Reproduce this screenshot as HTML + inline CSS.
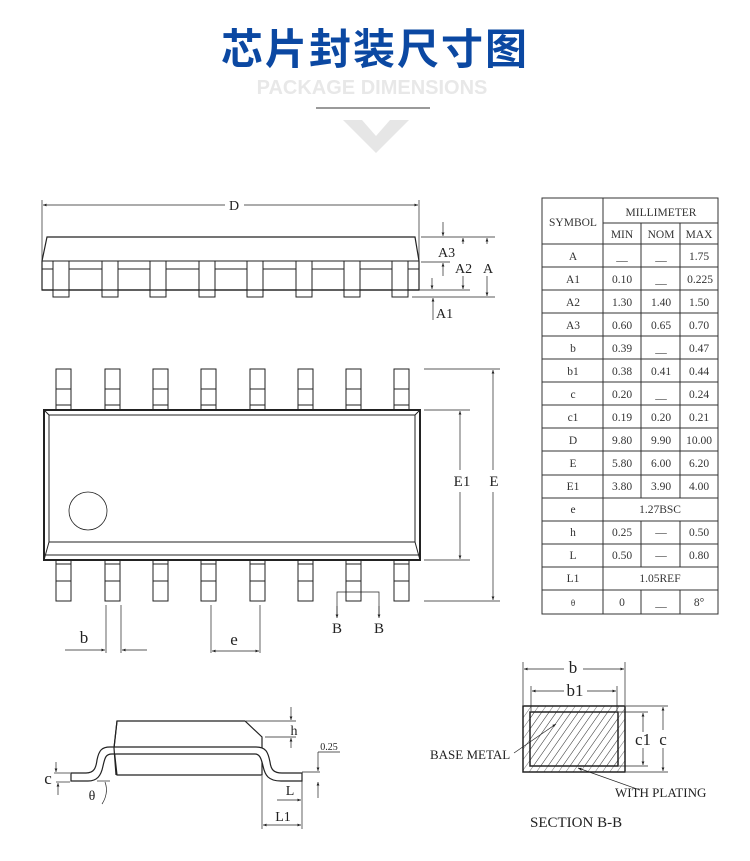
<!DOCTYPE html>
<html><head><meta charset="utf-8"><style>
html,body{margin:0;padding:0;background:#fff;}
svg{display:block;}
</style></head><body>
<svg width="750" height="861" viewBox="0 0 750 861" xmlns="http://www.w3.org/2000/svg" font-family="Liberation Serif, serif" fill="none" stroke="#222">
<defs>
<marker id="ar" viewBox="0 0 10 10" refX="10" refY="5" markerWidth="6" markerHeight="5" orient="auto-start-reverse"><path d="M0,1 L10,5 L0,9z" fill="#222" stroke="none"/></marker>
<pattern id="hatch" width="6" height="6" patternUnits="userSpaceOnUse" patternTransform="rotate(35)"><line x1="0" y1="0" x2="0" y2="6" stroke="#333" stroke-width="0.7"/></pattern>
</defs>
<!-- header -->
<text x="375" y="64" text-anchor="middle" font-family="Liberation Sans, Noto Sans CJK SC, sans-serif" font-weight="bold" font-size="42" fill="#0b48a2" stroke="none" letter-spacing="2">芯片封装尺寸图</text>
<text x="372" y="94" text-anchor="middle" font-family="Liberation Sans, sans-serif" font-weight="bold" font-size="20" fill="#e8e8e8" stroke="none">PACKAGE DIMENSIONS</text>
<line x1="316" y1="108" x2="430" y2="108" stroke="#9a9a9a" stroke-width="2"/>
<path d="M343,120 L362,120 L376,136 L390,120 L409,120 L376,153z" fill="#e6e6e6" stroke="none"/>

<g stroke-width="1">
<!-- side view -->
<line x1="42" y1="200" x2="42" y2="262" stroke-width="0.7"/>
<line x1="419" y1="200" x2="419" y2="262" stroke-width="0.7"/>
<line x1="43" y1="205" x2="225" y2="205" stroke-width="0.7" marker-start="url(#ar)"/>
<line x1="244" y1="205" x2="418" y2="205" stroke-width="0.7" marker-end="url(#ar)"/>
<text x="234" y="210" font-size="14" fill="#222" stroke="none" text-anchor="middle">D</text>
<path d="M47,237 L415,237 L419,261 L419,290 L42,290 L42,261z" stroke-width="1.2"/>
<line x1="42" y1="261" x2="419" y2="261"/>
<line x1="42" y1="269" x2="419" y2="269"/>
<g fill="#fff">
<rect x="53" y="261" width="16" height="36"/><rect x="102" y="261" width="16" height="36"/><rect x="150" y="261" width="16" height="36"/><rect x="199" y="261" width="16" height="36"/><rect x="247" y="261" width="16" height="36"/><rect x="296" y="261" width="16" height="36"/><rect x="344" y="261" width="16" height="36"/><rect x="392" y="261" width="16" height="36"/>
</g>
<line x1="42" y1="290" x2="419" y2="290" stroke-width="1.2"/>
<g stroke-width="0.7">
<line x1="421" y1="237" x2="495" y2="237"/><line x1="421" y1="262" x2="450" y2="262"/>
<line x1="412" y1="290" x2="470" y2="290"/><line x1="412" y1="297" x2="495" y2="297"/>
<line x1="443" y1="222" x2="443" y2="236" marker-end="url(#ar)"/>
<line x1="443" y1="276" x2="443" y2="263" marker-end="url(#ar)"/>
<line x1="463" y1="244" x2="463" y2="238" marker-end="url(#ar)"/><line x1="463" y1="276" x2="463" y2="289" marker-end="url(#ar)"/>
<line x1="487" y1="244" x2="487" y2="238" marker-end="url(#ar)"/><line x1="487" y1="276" x2="487" y2="296" marker-end="url(#ar)"/>
<line x1="432" y1="278" x2="432" y2="289" marker-end="url(#ar)"/>
<line x1="433" y1="320" x2="433" y2="298" marker-end="url(#ar)"/>
</g>
<g font-size="14" fill="#222" stroke="none">
<text x="438" y="257">A3</text><text x="455" y="273">A2</text><text x="483" y="273">A</text><text x="436" y="318">A1</text>
</g>

<!-- top view -->
<g fill="#fff">
<rect x="56" y="369" width="15" height="41"/><rect x="105" y="369" width="15" height="41"/><rect x="153" y="369" width="15" height="41"/><rect x="201" y="369" width="15" height="41"/><rect x="250" y="369" width="15" height="41"/><rect x="298" y="369" width="15" height="41"/><rect x="346" y="369" width="15" height="41"/><rect x="394" y="369" width="15" height="41"/>
<rect x="56" y="560" width="15" height="41"/><rect x="105" y="560" width="15" height="41"/><rect x="153" y="560" width="15" height="41"/><rect x="201" y="560" width="15" height="41"/><rect x="250" y="560" width="15" height="41"/><rect x="298" y="560" width="15" height="41"/><rect x="346" y="560" width="15" height="41"/><rect x="394" y="560" width="15" height="41"/>
</g>
<path d="M56,389h15M105,389h15M153,389h15M201,389h15M250,389h15M298,389h15M346,389h15M394,389h15 M56,405h15M105,405h15M153,405h15M201,405h15M250,405h15M298,405h15M346,405h15M394,405h15 M56,564h15M105,564h15M153,564h15M201,564h15M250,564h15M298,564h15M346,564h15M394,564h15 M56,581h15M105,581h15M153,581h15M201,581h15M250,581h15M298,581h15M346,581h15M394,581h15"/>
<rect x="44" y="410" width="376" height="150" stroke-width="2" fill="#fff"/>
<rect x="49" y="415" width="366" height="127" stroke-width="1"/>
<path d="M44,410 L49,415 M420,410 L415,415 M44,560 L49,542 M420,560 L415,542 M44,555 L420,555"/>
<circle cx="88" cy="511" r="19" stroke-width="0.8"/>
<g stroke-width="0.7">
<line x1="424" y1="410" x2="470" y2="410"/><line x1="424" y1="560" x2="470" y2="560"/>
<line x1="424" y1="369" x2="500" y2="369"/><line x1="424" y1="601" x2="500" y2="601"/>
<line x1="460" y1="470" x2="460" y2="411" marker-end="url(#ar)"/><line x1="460" y1="492" x2="460" y2="559" marker-end="url(#ar)"/>
<line x1="493" y1="470" x2="493" y2="370" marker-end="url(#ar)"/><line x1="493" y1="492" x2="493" y2="600" marker-end="url(#ar)"/>
<path d="M337,617 L337,592 L379,592 L379,617"/>
<line x1="337" y1="606" x2="337" y2="618" marker-end="url(#ar)"/><line x1="379" y1="606" x2="379" y2="618" marker-end="url(#ar)"/>
<line x1="106" y1="605" x2="106" y2="653"/><line x1="121" y1="605" x2="121" y2="653"/>
<line x1="65" y1="650" x2="105" y2="650" marker-end="url(#ar)"/><line x1="147" y1="650" x2="122" y2="650" marker-end="url(#ar)"/>
<line x1="211" y1="605" x2="211" y2="653"/><line x1="260" y1="605" x2="260" y2="653"/>
<line x1="212" y1="651" x2="259" y2="651" marker-start="url(#ar)" marker-end="url(#ar)"/>
</g>
<g font-size="15" fill="#222" stroke="none" text-anchor="middle">
<text x="462" y="486">E1</text><text x="494" y="486">E</text>
<text x="337" y="633">B</text><text x="379" y="633">B</text>
<text x="84" y="643" font-size="17">b</text><text x="234" y="645" font-size="17">e</text>
</g>

<!-- bottom side profile -->
<path d="M117,721 L245,721 L262,737 L262,775 L117,775 L114,748z" stroke-width="1.2"/>
<path d="M71,773 L86,773 C94,773 96,768 97,760 C99,750 102,747 110,747 L256,747 C266,747 268,752 270,762 C271,770 274,773 282,773 L302,773 L302,781 L281,781 C268,781 265,775 263,766 C261,757 259,754 255,754 L112,754 C106,754 105,757 103,766 C101,776 97,781 88,781 L71,781z" stroke-width="1.2" fill="#fff"/>
<path d="M117,721 L114,748 L116,775" stroke-width="1.2"/>
<g stroke-width="0.7">
<line x1="246" y1="721" x2="296" y2="721"/><line x1="265" y1="737" x2="296" y2="737"/>
<line x1="291" y1="707" x2="291" y2="720" marker-end="url(#ar)"/><line x1="291" y1="748" x2="291" y2="738" marker-end="url(#ar)"/>
<line x1="318" y1="752" x2="340" y2="752"/><line x1="318" y1="752" x2="318" y2="771" marker-end="url(#ar)"/>
<line x1="318" y1="798" x2="318" y2="782" marker-end="url(#ar)"/>
<line x1="302" y1="772" x2="320" y2="772"/>
<line x1="302" y1="781" x2="302" y2="829"/><line x1="262" y1="776" x2="262" y2="829"/>
<line x1="277" y1="800" x2="301" y2="800" marker-end="url(#ar)"/>
<line x1="263" y1="825" x2="301" y2="825" marker-start="url(#ar)" marker-end="url(#ar)"/>
<line x1="54" y1="773" x2="70" y2="773"/><line x1="56" y1="782" x2="70" y2="782"/>
<line x1="56" y1="762" x2="56" y2="772" marker-end="url(#ar)"/><line x1="58" y1="795" x2="58" y2="783" marker-end="url(#ar)"/>
<path d="M105,782 C108,790 106,798 102,804"/><line x1="97" y1="781" x2="110" y2="781"/>
</g>
<g font-size="14" fill="#222" stroke="none" text-anchor="middle">
<text x="294" y="735">h</text><text x="329" y="750" font-size="10">0.25</text>
<text x="290" y="795">L</text><text x="283" y="821">L1</text>
<text x="48" y="784" font-size="17">c</text><text x="92" y="800">θ</text>
</g>

<!-- section B-B -->
<rect x="523" y="706" width="102" height="66" stroke-width="1.5" fill="url(#hatch)"/>
<rect x="530" y="712" width="88" height="54" stroke-width="1.5" fill="url(#hatch)"/>
<g stroke-width="0.7">
<line x1="523" y1="662" x2="523" y2="705"/><line x1="625" y1="662" x2="625" y2="705"/>
<line x1="531" y1="686" x2="531" y2="711"/><line x1="617" y1="686" x2="617" y2="711"/>
<line x1="524" y1="669" x2="564" y2="669" marker-start="url(#ar)"/><line x1="583" y1="669" x2="624" y2="669" marker-end="url(#ar)"/>
<line x1="532" y1="691" x2="564" y2="691" marker-start="url(#ar)"/><line x1="587" y1="691" x2="616" y2="691" marker-end="url(#ar)"/>
<line x1="626" y1="706" x2="668" y2="706"/><line x1="619" y1="712" x2="648" y2="712"/>
<line x1="619" y1="766" x2="648" y2="766"/><line x1="626" y1="772" x2="668" y2="772"/>
<line x1="643" y1="732" x2="643" y2="713" marker-end="url(#ar)"/><line x1="643" y1="748" x2="643" y2="765" marker-end="url(#ar)"/>
<line x1="663" y1="730" x2="663" y2="707" marker-end="url(#ar)"/><line x1="663" y1="748" x2="663" y2="771" marker-end="url(#ar)"/>
<line x1="514" y1="753" x2="556" y2="724" marker-end="url(#ar)"/>
<line x1="640" y1="790" x2="578" y2="768" marker-end="url(#ar)"/>
</g>
<g font-size="15" fill="#222" stroke="none">
<text x="573" y="673" text-anchor="middle" font-size="17">b</text>
<text x="575" y="696" text-anchor="middle" font-size="17">b1</text>
<text x="643" y="745" text-anchor="middle" font-size="17">c1</text>
<text x="663" y="745" text-anchor="middle" font-size="17">c</text>
<text x="430" y="759" font-size="13">BASE METAL</text>
<text x="615" y="797" font-size="13">WITH PLATING</text>
<text x="530" y="827">SECTION B-B</text>
</g>
</g>

<!-- table -->
<g stroke="#333" stroke-width="1">
<rect x="542" y="198" width="176" height="416"/>
<line x1="603" y1="198" x2="603" y2="614"/>
<line x1="603" y1="223" x2="718" y2="223"/>
<line x1="542" y1="244" x2="718" y2="244"/>
<line x1="641" y1="223" x2="641" y2="498"/><line x1="680" y1="223" x2="680" y2="498"/>
<line x1="641" y1="521" x2="641" y2="567"/><line x1="680" y1="521" x2="680" y2="567"/>
<line x1="641" y1="590" x2="641" y2="614"/><line x1="680" y1="590" x2="680" y2="614"/>
<path d="M542,267h176M542,290h176M542,313h176M542,336h176M542,359h176M542,382h176M542,405h176M542,428h176M542,451h176M542,475h176M542,498h176M542,521h176M542,544h176M542,567h176M542,590h176"/>
</g>
<g font-size="11.5" fill="#333" stroke="none" text-anchor="middle">
<text x="573" y="226">SYMBOL</text><text x="661" y="216">MILLIMETER</text>
<text x="622" y="238">MIN</text><text x="661" y="238">NOM</text><text x="699" y="238">MAX</text>
<g>
<text x="573" y="260">A</text><text x="622" y="260">__</text><text x="661" y="260">__</text><text x="699" y="260">1.75</text>
<text x="573" y="283">A1</text><text x="622" y="283">0.10</text><text x="661" y="283">__</text><text x="700" y="283">0.225</text>
<text x="573" y="306">A2</text><text x="622" y="306">1.30</text><text x="661" y="306">1.40</text><text x="699" y="306">1.50</text>
<text x="573" y="329">A3</text><text x="622" y="329">0.60</text><text x="661" y="329">0.65</text><text x="699" y="329">0.70</text>
<text x="573" y="352">b</text><text x="622" y="352">0.39</text><text x="661" y="352">__</text><text x="699" y="352">0.47</text>
<text x="573" y="375">b1</text><text x="622" y="375">0.38</text><text x="661" y="375">0.41</text><text x="699" y="375">0.44</text>
<text x="573" y="398">c</text><text x="622" y="398">0.20</text><text x="661" y="398">__</text><text x="699" y="398">0.24</text>
<text x="573" y="421">c1</text><text x="622" y="421">0.19</text><text x="661" y="421">0.20</text><text x="699" y="421">0.21</text>
<text x="573" y="444">D</text><text x="622" y="444">9.80</text><text x="661" y="444">9.90</text><text x="699" y="444">10.00</text>
<text x="573" y="467">E</text><text x="622" y="467">5.80</text><text x="661" y="467">6.00</text><text x="699" y="467">6.20</text>
<text x="573" y="490">E1</text><text x="622" y="490">3.80</text><text x="661" y="490">3.90</text><text x="699" y="490">4.00</text>
<text x="573" y="513">e</text><text x="660" y="513">1.27BSC</text>
<text x="573" y="536">h</text><text x="622" y="536">0.25</text><text x="661" y="536">—</text><text x="699" y="536">0.50</text>
<text x="573" y="559">L</text><text x="622" y="559">0.50</text><text x="661" y="559">—</text><text x="699" y="559">0.80</text>
<text x="573" y="582">L1</text><text x="660" y="582">1.05REF</text>
<text x="573" y="606" font-size="9">θ</text><text x="622" y="606">0</text><text x="661" y="606">__</text><text x="699" y="606">8°</text>
</g>
</g>
</svg>
</body></html>
